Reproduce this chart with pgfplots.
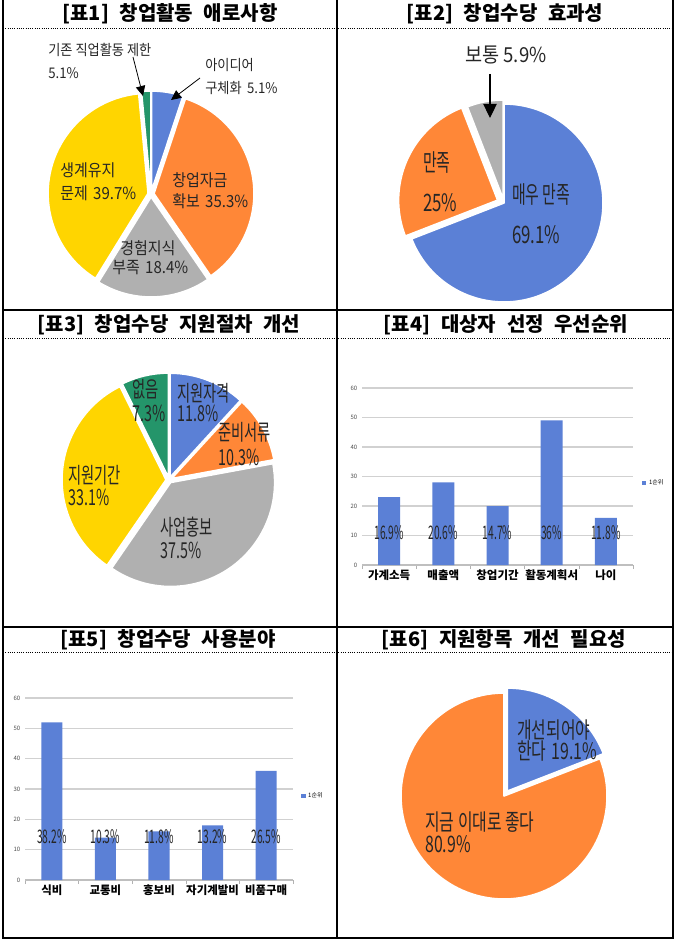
\documentclass[border=0pt]{standalone}
\usepackage{fontspec}
\setmainfont{Noto Sans CJK KR}
\newfontfamily\cjkA[FakeStretch=0.9]{Noto Sans CJK KR}
\newfontfamily\cjkB[FakeStretch=0.7]{Noto Sans CJK KR}
\newfontfamily\cjkH[FakeStretch=0.62]{Noto Sans CJK KR}
\newfontfamily\cjkC[FakeStretch=0.65]{Noto Sans CJK KR}
\newfontfamily\cjkD[FakeStretch=0.55]{Noto Sans CJK KR}
\usepackage{pgfplots}
\pgfplotsset{compat=1.18}
\usetikzlibrary{arrows.meta}

\definecolor{pblue}{HTML}{5B80D6}
\definecolor{porange}{HTML}{FF8737}
\definecolor{pgray}{HTML}{B0B0B0}
\definecolor{pyellow}{HTML}{FFD500}
\definecolor{pgreen}{HTML}{24956A}
\definecolor{ptext}{HTML}{262626}

\newcommand\fs[1]{\fontsize{#1}{#1}\selectfont}

% pie wedges, clockwise from 12 o'clock
\newcommand\piestart{\gdef\pieacc{0}}
% \slice{value %}{colour}{explode px}{radius px}
\newcommand\slice[4]{%
  \pgfmathsetmacro\sa{90-3.6*\pieacc}%
  \pgfmathsetmacro\ea{90-3.6*(\pieacc+#1)}%
  \pgfmathsetmacro\newacc{\pieacc+#1}%
  \xdef\pieacc{\newacc}%
  \pgfmathsetmacro\ma{(\sa+\ea)/2}%
  \pgfmathsetmacro\cx{(#3)*cos(\ma)}%
  \pgfmathsetmacro\cy{(#3)*sin(\ma)}%
  \pgfmathsetmacro\px{\cx+(#4)*cos(\sa)}%
  \pgfmathsetmacro\py{\cy+(#4)*sin(\sa)}%
  \pgfmathsetmacro\rr{0.75*(#4)}%
  \edef\tmp{\noexpand\filldraw[fill=#2,draw=white,line width=1.2pt,line join=round]
    (axis cs:\cx,\cy) -- (axis cs:\px,\py) arc[start angle=\sa,end angle=\ea,radius=\rr pt] -- cycle;}%
  \tmp}

\pgfplotsset{
  mypie/.style={hide axis, clip=false, anchor=center, at={(0,0)},
    x=0.75pt, y=0.75pt, xmin=-130, xmax=130, ymin=-130, ymax=130},
  mybar/.style={ybar, scale only axis, anchor=south west, at={(0,0)},
    ymin=0, ymax=60, ytick={0,10,...,60},
    xmin=-0.5, xmax=4.5, xtick={0,...,4},
    minor xtick={-0.5,0.5,...,4.5},
    axis lines*=left, y axis line style={draw=none},
    x axis line style={draw=black!25, line width=0.8pt},
    ymajorgrids, grid style={black!18, line width=0.9pt},
    major tick length=0pt, minor tick length=3pt, tick align=outside,
    minor tick style={black!30},
    /pgf/number format/assume math mode=true,
    yticklabel style={font=\fs{4.5}, text=black!70},
    xticklabel style={font=\bfseries\fs{8.6}, text=black},
    legend style={draw=none, fill=none, font=\fs{4.5}, anchor=west, inner sep=0pt},
    legend image code/.code={\fill[pblue] (0pt,-1.6pt) rectangle (3.2pt,1.6pt);},
  },
}

\begin{document}
\begin{tikzpicture}[x=0.75pt, y=0.75pt]
\useasboundingbox (0,0) rectangle (679,-945);

% table frame
\draw[line width=1.1pt] (3,0) -- (3,-938) -- (673,-938) -- (673,0);
\draw[line width=1.1pt] (337,0) -- (337,-938);
\draw[line width=1.1pt] (3,-310) -- (673,-310);
\draw[line width=1.1pt] (3,-627) -- (673,-627);
\draw[densely dotted, line width=0.7pt] (3,-28) -- (673,-28);
\draw[densely dotted, line width=0.7pt] (3,-338) -- (673,-338);
\draw[densely dotted, line width=0.7pt] (3,-652) -- (673,-652);

% titles
\begin{scope}[font=\bfseries\fs{15}]
\node at (170,-14) {[표1]\hspace{8pt}창업활동\hspace{8pt}애로사항};
\node at (505,-14) {[표2]\hspace{8pt}창업수당\hspace{8pt}효과성};
\node at (169,-325) {[표3]\hspace{8pt}창업수당\hspace{8pt}지원절차\hspace{8pt}개선};
\node at (506,-325) {[표4]\hspace{8pt}대상자\hspace{8pt}선정\hspace{8pt}우선순위};
\node at (168,-640) {[표5]\hspace{8pt}창업수당\hspace{8pt}사용분야};
\node at (504,-640) {[표6]\hspace{8pt}지원항목\hspace{8pt}개선\hspace{8pt}필요성};
\end{scope}

% [표1]
\begin{scope}[shift={(151,-194)}]
\begin{axis}[mypie]
\piestart
\slice{5.1}{pblue}{3}{100}
\slice{35.3}{porange}{3}{100}
\slice{18.4}{pgray}{3}{100}
\slice{39.7}{pyellow}{3}{100}
\slice{1.5}{pgreen}{3}{100}
\end{axis}
\end{scope}
\begin{scope}[every node/.style={anchor=west, inner sep=0pt, text=ptext}]
\node[font=\cjkA\fs{11}] at (48,-50) {기존 직업활동 제한};
\node[font=\cjkA\fs{11}] at (48,-73) {5.1\%};
\node[font=\cjkA\fs{11}] at (205,-65) {아이디어};
\node[font=\cjkA\fs{11}] at (205,-88) {구체화\hspace{4pt}5.1\%};
\node[font=\cjkA\fs{12.5}] at (60,-170) {생계유지};
\node[font=\cjkA\fs{12.5}] at (60,-193) {문제\hspace{4pt}39.7\%};
\node[font=\cjkA\fs{12.5}] at (172,-180) {창업자금};
\node[font=\cjkA\fs{12.5}] at (172,-201) {확보\hspace{4pt}35.3\%};
\node[font=\cjkA\fs{12.5}] at (120,-248) {경험지식};
\node[font=\cjkA\fs{12.5}] at (112,-268) {부족\hspace{4pt}18.4\%};
\end{scope}
\draw[line width=0.6pt, -{Triangle[length=7.5pt,width=7pt]}] (133,-57) -- (143,-96);
\draw[line width=0.6pt, -{Triangle[length=7.5pt,width=7pt]}] (200,-78) -- (171,-100);

% [표2]
\begin{scope}[shift={(504,-203)}]
\begin{axis}[mypie]
\piestart
\slice{69.1}{pblue}{0}{99}
\slice{25}{porange}{7}{99}
\slice{5.9}{pgray}{4}{99}
\end{axis}
\end{scope}
\begin{scope}[every node/.style={anchor=west, inner sep=0pt, text=ptext}]
\node[font=\cjkA\fs{15.5}] at (465,-55) {보통 5.9\%};
\node[font=\cjkH\fs{18}] at (423,-163) {만족};
\node[font=\cjkB\fs{18}] at (423,-203) {25\%};
\node[font=\cjkH\fs{18}] at (512,-195) {매우 만족};
\node[font=\cjkB\fs{18}] at (512,-235) {69.1\%};
\end{scope}
\draw[line width=0.8pt, -{Triangle[length=10.5pt,width=10pt]}] (490,-74) -- (490,-118);

% [표3]
\begin{scope}[shift={(169,-480)}]
\begin{axis}[mypie]
\piestart
\slice{11.8}{pblue}{3}{104}
\slice{10.3}{porange}{3}{104}
\slice{37.5}{pgray}{3}{104}
\slice{33.1}{pyellow}{3}{104}
\slice{7.3}{pgreen}{3}{104}
\end{axis}
\end{scope}
\begin{scope}[every node/.style={anchor=west, inner sep=0pt, text=ptext, font=\cjkC\fs{16.5}}]
\node at (177,-393) {지원자격};
\node at (177,-413) {11.8\%};
\node at (218,-432) {준비서류};
\node at (218,-457) {10.3\%};
\node at (132,-389) {없음};
\node at (132,-413) {7.3\%};
\node at (68,-475) {지원기간};
\node at (68,-497) {33.1\%};
\node at (160,-527) {사업홍보};
\node at (160,-550) {37.5\%};
\end{scope}

% [표4]
\begin{scope}[shift={(362,-565)}]
\begin{axis}[mybar, width=203.25pt, height=132.75pt, bar width=16.5pt,
  xticklabels={가계소득,매출액,창업기간,활동계획서,나이},
  legend style={at={(1.033,0.463)}}]
\addplot[fill=pblue, draw=none] coordinates {(0,23) (1,28) (2,20) (3,49) (4,16)};
\addlegendentry{1순위}
\node[font=\cjkD\fs{14}, text=ptext] at (axis cs:0,10.8) {16.9\%};
\node[font=\cjkD\fs{14}, text=ptext] at (axis cs:1,10.8) {20.6\%};
\node[font=\cjkD\fs{14}, text=ptext] at (axis cs:2,10.8) {14.7\%};
\node[font=\cjkD\fs{14}, text=ptext] at (axis cs:3,10.8) {36\%};
\node[font=\cjkD\fs{14}, text=ptext] at (axis cs:4,10.8) {11.8\%};
\end{axis}
\end{scope}

% [표5]
\begin{scope}[shift={(25,-880)}]
\begin{axis}[mybar, width=201pt, height=136.5pt, bar width=15.75pt,
  xticklabels={식비,교통비,홍보비,자기계발비,비품구매},
  legend style={at={(1.03,0.46)}}]
\addplot[fill=pblue, draw=none] coordinates {(0,52) (1,14) (2,16) (3,18) (4,36)};
\addlegendentry{1순위}
\node[font=\cjkD\fs{14}, text=ptext] at (axis cs:0,14.2) {38.2\%};
\node[font=\cjkD\fs{14}, text=ptext] at (axis cs:1,14.2) {10.3\%};
\node[font=\cjkD\fs{14}, text=ptext] at (axis cs:2,14.2) {11.8\%};
\node[font=\cjkD\fs{14}, text=ptext] at (axis cs:3,14.2) {13.2\%};
\node[font=\cjkD\fs{14}, text=ptext] at (axis cs:4,14.2) {26.5\%};
\end{axis}
\end{scope}

% [표6]
\begin{scope}[shift={(504,-796)}]
\begin{axis}[mypie]
\piestart
\slice{19.1}{pblue}{6}{103}
\slice{80.9}{porange}{0}{103}
\end{axis}
\end{scope}
\begin{scope}[every node/.style={anchor=west, inner sep=0pt, text=ptext, font=\cjkB\fs{17}}]
\node at (517,-730) {개선되어야};
\node at (517,-751) {한다\hspace{4pt}19.1\%};
\node at (425,-822) {지금 이대로 좋다};
\node at (425,-844) {80.9\%};
\end{scope}
\end{tikzpicture}
\end{document}
